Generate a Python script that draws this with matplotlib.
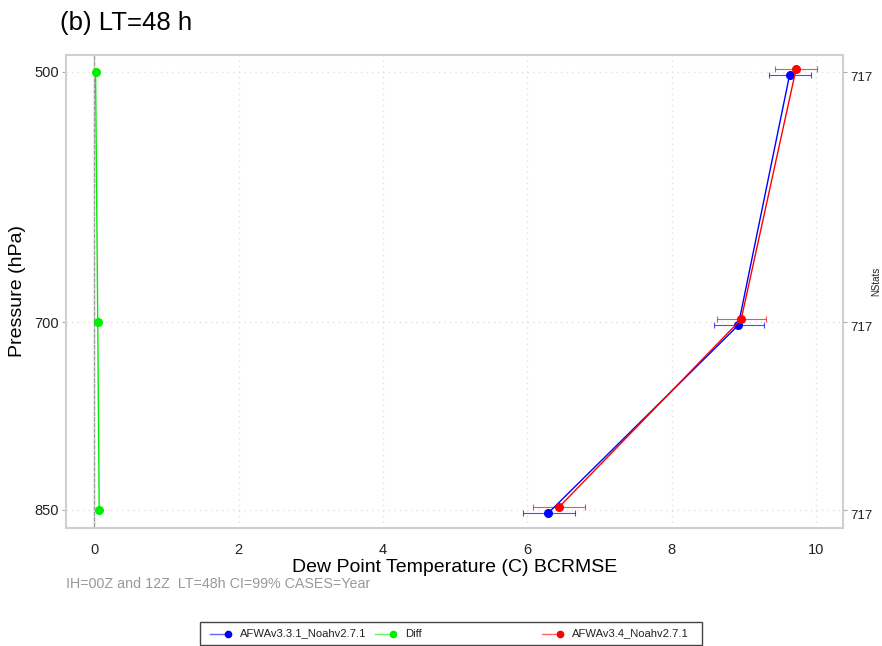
import matplotlib.pyplot as plt
from matplotlib.lines import Line2D
from matplotlib.patches import Rectangle

plt.rcParams['font.family'] = ['Liberation Sans', 'DejaVu Sans']

# pressure levels and BCRMSE values
levels = [500, 700, 850]
afwa331 = [9.63, 8.92, 6.29]
afwa331_lo = [9.34, 8.59, 5.94]
afwa331_hi = [9.92, 9.27, 6.66]
afwa34 = [9.72, 8.96, 6.44]
afwa34_lo = [9.43, 8.63, 6.08]
afwa34_hi = [10.01, 9.31, 6.80]
diff = [0.02, 0.05, 0.07]
nstats = ["717", "717", "717"]
xticks = [0, 2, 4, 6, 8, 10]

off = 2.4  # small vertical offset so the two series don't overlap

fig = plt.figure(figsize=(8.82, 6.46), dpi=100)
ax = fig.add_axes([0.0748, 0.1827, 0.8810, 0.7322])

ax.axvline(0, color="#999999", lw=1, zorder=1)

y_blue = [p + off for p in levels]
y_red = [p - off for p in levels]

ax.plot(diff, levels, color="#00ee00", lw=1, marker="o", ms=5.5, zorder=3)
ax.plot(afwa331, y_blue, color="blue", lw=1, marker="o", ms=5.5, zorder=4)
ax.plot(afwa34, y_red, color="red", lw=1, marker="o", ms=5.5, zorder=4)

for val, lo, hi, y, c in [(afwa331, afwa331_lo, afwa331_hi, y_blue, "blue"),
                          (afwa34, afwa34_lo, afwa34_hi, y_red, "red")]:
    xerr = [[v - l for v, l in zip(val, lo)], [h - v for v, h in zip(val, hi)]]
    ax.errorbar(val, y, xerr=xerr, fmt="none", ecolor=c, elinewidth=0.8,
                capsize=2, capthick=0.8, alpha=0.7, zorder=2)

ax.set_xlim(-0.39, 10.37)
ax.set_ylim(864.4, 486.4)
ax.set_xticks(xticks)
ax.set_yticks(levels)
ax.grid(True, color="#e0e0e0", ls=(0, (1, 3)), lw=1)
for s in ax.spines.values():
    s.set_color("#d0d0d0")
    s.set_linewidth(1.5)
ax.tick_params(colors="#aaaaaa", labelcolor="#222222", labelsize=10.5, length=3, pad=2)
ax.tick_params(axis="x", length=0, pad=11)
ax.set_xlabel("Dew Point Temperature (C) BCRMSE", fontsize=14, labelpad=1)
ax.set_ylabel("Pressure (hPa)", fontsize=14, labelpad=6)

ax2 = ax.twinx()
ax2.set_ylim(ax.get_ylim())
ax2.set_yticks(levels)
ax2.set_yticklabels(nstats, va="top")
ax2.tick_params(colors="#aaaaaa", labelcolor="#222222", labelsize=9.5, length=3, pad=2)
for s in ax2.spines.values():
    s.set_visible(False)
fig.text(0.993, 0.565, "NStats", rotation=90, fontsize=7, ha="center", va="center", color="#222222")

fig.text(0.068, 0.965, "(b) LT=48 h", fontsize=18.5, ha="left", va="center")
fig.text(0.075, 0.096, "IH=00Z and 12Z  LT=48h CI=99% CASES=Year", fontsize=10.3,
         color="#999999", ha="left", va="center")

# legend box along the bottom
fig.patches.append(Rectangle((0.2268, 0.0015), 0.569, 0.0357, transform=fig.transFigure,
                             fill=False, edgecolor="#444444", lw=1))
ly = 0.0193
entries = [("AFWAv3.3.1_Noahv2.7.1", "blue", 0.238), ("Diff", "#00ee00", 0.425), ("AFWAv3.4_Noahv2.7.1", "red", 0.6145)]
for lab, c, x0 in entries:
    fig.lines.append(Line2D([x0, x0 + 0.0204], [ly, ly], transform=fig.transFigure, color=c, lw=1, alpha=0.6))
    fig.lines.append(Line2D([x0 + 0.0204], [ly], transform=fig.transFigure, color=c, marker="o", ms=4.5))
    fig.text(x0 + 0.034, ly, lab, fontsize=8.1, ha="left", va="center", color="#222222")

fig.savefig("out.png", dpi=100)
